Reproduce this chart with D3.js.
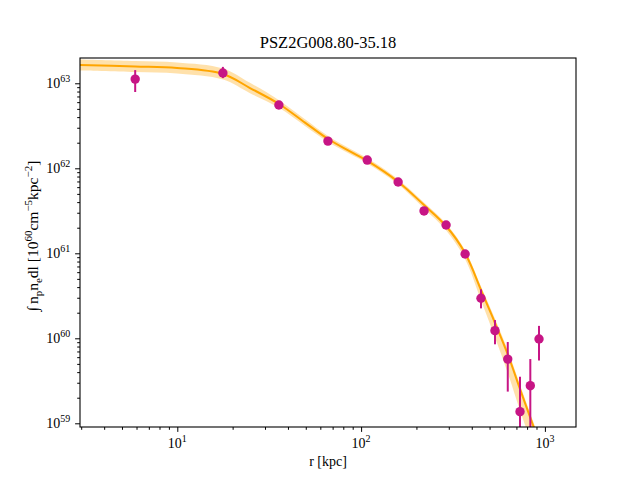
<!DOCTYPE html>
<html>
<head>
<meta charset="utf-8">
<script src="https://cdn.jsdelivr.net/npm/d3@7"></script>
<style>
  body { margin: 0; background: #fff; }
</style>
</head>
<body>
<div id="chart"></div>
<script>
// measured profile (kpc, integrated n_p n_e dl)
var title = "PSZ2G008.80-35.18";
var radius = [5.9, 17.7, 35.7, 66, 108, 159, 220, 290, 368, 449, 535, 628, 732, 833, 929];
var density = [1.12e63, 1.32e63, 5.56e62, 2.09e62, 1.25e62, 6.9e61, 3.15e61, 2.15e61,
               9.8e60, 2.96e60, 1.23e60, 5.69e59, 1.37e59, 2.77e59, 9.8e59];
var errLow = [7.9e62, 1.15e63, 5.3e62, 2.0e62, 1.19e62, 6.6e61, 3.0e61, 2.04e61,
              9.2e60, 2.25e60, 8.5e59, 2.36e59, 1e58, 1e58, 5.48e59];
var errHigh = [1.43e63, 1.56e63, 5.8e62, 2.18e62, 1.31e62, 7.2e61, 3.3e61, 2.26e61,
               1.04e61, 3.77e60, 1.64e60, 9.04e59, 3.53e59, 5.7e59, 1.40e60];

// best-fit model and its band
var modelRadius = [2.955, 5.89, 9.96, 17.73, 24.86, 35.76, 49.5, 66.1, 87.0, 107.7,
                   158.8, 219.9, 289.7, 367.6, 449.1, 535.2, 630.0, 731.9, 869, 940.4];
var modelBest = [1.642e63, 1.576e63, 1.514e63, 1.286e63, 8.80e62, 5.71e62, 3.45e62, 2.21e62, 1.58e62, 1.23e62,
                 6.95e61, 3.70e61, 2.095e61, 1.008e61, 3.70e60, 1.514e60, 6.36e59, 2.53e59, 9.05e58, 5.56e58];
var modelLow = [1.414e63, 1.357e63, 1.304e63, 1.107e63, 7.65e62, 5.15e62, 3.15e62, 2.04e62, 1.47e62, 1.148e62,
                6.49e61, 3.37e61, 1.867e61, 8.58e60, 2.81e60, 1.024e60, 3.84e59, 1.42e59, 4.86e58, 2.92e58];
var modelHigh = [1.906e63, 1.830e63, 1.758e63, 1.493e63, 1.012e63, 6.33e62, 3.78e62, 2.40e62, 1.70e62, 1.32e62,
                 7.45e61, 3.97e61, 2.245e61, 1.093e61, 4.06e60, 1.699e60, 7.14e59, 2.84e59, 1.015e59, 6.24e58];

var xMajor = [10, 100, 1000];
var xMajorExp = ["1", "2", "3"];
var yMajor = [1e59, 1e60, 1e61, 1e62, 1e63];
var yMajorExp = ["59", "60", "61", "62", "63"];

var serif = "'Liberation Serif', 'Times New Roman', 'DejaVu Serif', serif";

var svgWidth = 640;
var svgHeight = 480;
var margin = { top: 58, right: 64, bottom: 53, left: 80 };
var width = svgWidth - margin.left - margin.right;
var height = svgHeight - margin.top - margin.bottom;

var svg = d3.select("#chart").append("svg")
  .attr("width", svgWidth)
  .attr("height", svgHeight)
  .style("font-family", serif);

var chartGroup = svg.append("g")
  .attr("transform", `translate(${margin.left}, ${margin.top})`);

chartGroup.append("clipPath").attr("id", "plotclip")
  .append("rect").attr("width", width).attr("height", height);

var xScale = d3.scaleLog()
  .domain([Math.pow(10, 0.4706), Math.pow(10, 3.1692)])
  .range([0, width]);

var yScale = d3.scaleLog()
  .domain([Math.pow(10, 58.9565), Math.pow(10, 63.2976)])
  .range([height, 0]);

// axes: minor + major ticks, labels drawn by hand for the exponents
var minorX = xScale.ticks().filter(d => xMajor.indexOf(d) < 0);
var minorY = yScale.ticks().filter(d => yMajor.every(m => Math.abs(m - d) / m > 1e-6));

var xAxisG = chartGroup.append("g")
  .attr("transform", `translate(0, ${height})`);
xAxisG.append("g")
  .call(d3.axisBottom(xScale).tickValues(minorX).tickSize(2.8).tickFormat(""));
xAxisG.append("g")
  .call(d3.axisBottom(xScale).tickValues(xMajor).tickSize(4.9).tickFormat(""));

var yAxisG = chartGroup.append("g");
yAxisG.append("g")
  .call(d3.axisLeft(yScale).tickValues(minorY).tickSize(2.8).tickFormat(""));
yAxisG.append("g")
  .call(d3.axisLeft(yScale).tickValues(yMajor).tickSize(4.9).tickFormat(""));

chartGroup.selectAll(".domain").remove();
chartGroup.selectAll(".tick line").attr("stroke", "#000").attr("stroke-width", 1);

xMajor.forEach(function(v, i) {
  var t = chartGroup.append("text")
    .attr("x", xScale(v))
    .attr("y", height + 20.5)
    .attr("text-anchor", "middle")
    .attr("font-family", serif)
    .attr("font-size", "14px");
  t.append("tspan").text("10");
  t.append("tspan").text(xMajorExp[i]).attr("font-size", "10px").attr("dy", "-6");
});

yMajor.forEach(function(v, i) {
  var t = chartGroup.append("text")
    .attr("x", -9.8)
    .attr("y", yScale(v) + 4.5)
    .attr("text-anchor", "end")
    .attr("font-family", serif)
    .attr("font-size", "14px");
  t.append("tspan").text("10");
  t.append("tspan").text(yMajorExp[i]).attr("font-size", "10px").attr("dy", "-6");
});

// model band + best fit
var plot = chartGroup.append("g").attr("clip-path", "url(#plotclip)");

var modelRows = modelRadius.map(function(r, i) {
  return { r: r, best: modelBest[i], lo: modelLow[i], hi: modelHigh[i] };
});

plot.append("path")
  .datum(modelRows)
  .attr("fill", "#ffa500")
  .attr("fill-opacity", 0.33)
  .attr("stroke", "none")
  .attr("d", d3.area()
    .x(d => xScale(d.r))
    .y0(d => yScale(d.lo))
    .y1(d => yScale(d.hi))
    .curve(d3.curveCatmullRom.alpha(0.5)));

plot.append("path")
  .datum(modelRows)
  .attr("fill", "none")
  .attr("stroke", "#ffa500")
  .attr("stroke-width", 2)
  .attr("d", d3.line()
    .x(d => xScale(d.r))
    .y(d => yScale(d.best))
    .curve(d3.curveCatmullRom.alpha(0.5)));

// data points with error bars
var pts = radius.map(function(r, i) {
  return { r: r, v: density[i], lo: errLow[i], hi: errHigh[i] };
});

plot.selectAll("line.err")
  .data(pts)
  .enter()
  .append("line")
  .attr("class", "err")
  .attr("x1", d => xScale(d.r))
  .attr("x2", d => xScale(d.r))
  .attr("y1", d => yScale(d.lo))
  .attr("y2", d => yScale(d.hi))
  .attr("stroke", "#c71585")
  .attr("stroke-width", 2);

plot.selectAll("circle")
  .data(pts)
  .enter()
  .append("circle")
  .attr("cx", d => xScale(d.r))
  .attr("cy", d => yScale(d.v))
  .attr("r", 4.7)
  .attr("fill", "#c71585");

// frame
chartGroup.append("rect")
  .attr("width", width)
  .attr("height", height)
  .attr("fill", "none")
  .attr("stroke", "#000")
  .attr("stroke-width", 1.1);

// title and labels
svg.append("text")
  .attr("x", margin.left + width / 2)
  .attr("y", 48)
  .attr("text-anchor", "middle")
  .attr("font-family", serif)
  .attr("font-size", "16.5px")
  .text(title);

svg.append("text")
  .attr("x", margin.left + width / 2)
  .attr("y", 466)
  .attr("text-anchor", "middle")
  .attr("font-family", serif)
  .attr("font-size", "14px")
  .text("r [kpc]");

var yl = svg.append("text")
  .attr("transform", "translate(38, 236) rotate(-90)")
  .attr("text-anchor", "middle")
  .attr("font-family", serif)
  .attr("font-size", "15.5px");
var pieces = [["\u222B\u2009n", 0], ["p", "sub"], ["n", 0], ["e", "sub"], ["dl [10", 0], ["60", "sup"],
              ["cm", 0], ["\u22125", "sup"], ["kpc", 0], ["\u22122", "sup"], ["]", 0]];
var cur = 0;
pieces.forEach(function(p) {
  var off = p[1] === "sup" ? -6.5 : p[1] === "sub" ? 4 : 0;
  var ts = yl.append("tspan").text(p[0]);
  if (off !== cur) ts.attr("dy", off - cur);
  if (p[1]) ts.attr("font-size", "11px");
  cur = off;
});
</script>
</body>
</html>
